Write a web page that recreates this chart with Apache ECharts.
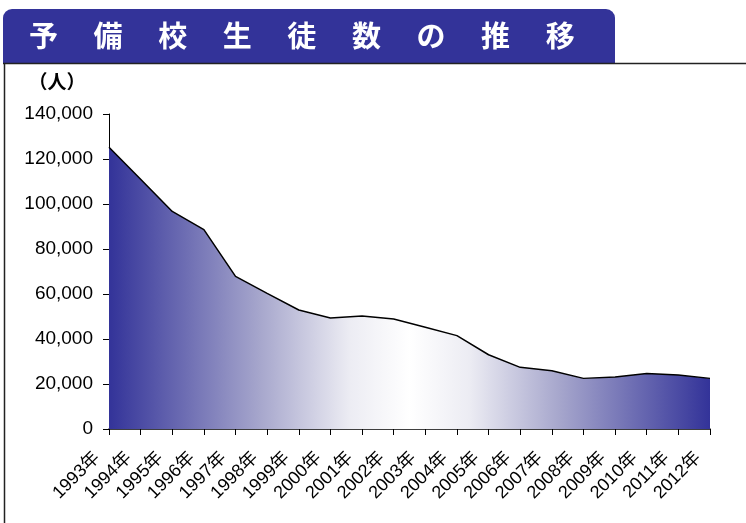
<!DOCTYPE html>
<html>
<head>
<meta charset="utf-8">
<script src="https://cdn.jsdelivr.net/npm/echarts@6/dist/echarts.min.js"></script>
<style>
html,body{margin:0;padding:0;background:#fff;}
#c{width:746px;height:523px;}
</style>
</head>
<body>
<div id="c"></div>
<script>
var titleText = '予　 備　 校　 生　 徒　 数　 の　 推　 移';
var unitLabel = '（人）';
var years = ['1993年','1994年','1995年','1996年','1997年','1998年','1999年','2000年','2001年','2002年','2003年','2004年','2005年','2006年','2007年','2008年','2009年','2010年','2011年','2012年'];
var students = [125200, 111000, 96700, 88600, 67800, 60300, 52900, 49300, 50200, 48900, 45200, 41500, 33000, 27400, 25900, 22500, 23100, 24700, 24000, 22500];
var yMin = 0, yMax = 140000, yStep = 20000;

var chart = echarts.init(document.getElementById('c'), null, {renderer:'canvas'});
var fontLab = '"Liberation Sans", "Noto Sans CJK JP", sans-serif';
chart.setOption({
  animation:false,
  backgroundColor:'#ffffff',
  graphic:[
    {type:'rect', shape:{x:3, y:9, width:612, height:54, r:[9,9,0,0]}, style:{fill:'#333399'}, z:0},
    {type:'line', shape:{x1:3, y1:63.5, x2:746, y2:63.5}, style:{stroke:'#222', lineWidth:1.5}, z:1},
    {type:'line', shape:{x1:4.5, y1:63, x2:4.5, y2:523}, style:{stroke:'#222', lineWidth:1.5}, z:1},
    {type:'text', x:57, y:82, style:{text:unitLabel, fill:'#000', font:'bold 19px "Noto Sans CJK JP", sans-serif', textAlign:'center', textVerticalAlign:'middle'}, z:2}
  ],
  title:{
    text:titleText, left:29, top:21, padding:0,
    textStyle:{color:'#ffffff', fontSize:29, fontWeight:'bold', fontFamily:'"Noto Sans CJK JP", sans-serif'}
  },
  grid:{left:109, right:36, top:114, bottom:94, containLabel:false},
  xAxis:{
    type:'category', data:years, boundaryGap:false,
    axisLine:{lineStyle:{color:'#000', width:1.5}},
    axisTick:{show:true, length:6, interval:0, lineStyle:{color:'#000'}},
    axisLabel:{interval:0, rotate:45, margin:14, padding:[0,17,0,0], color:'#000', fontSize:18, fontFamily:fontLab}
  },
  yAxis:{
    type:'value', min:yMin, max:yMax, interval:yStep,
    axisLine:{show:true, lineStyle:{color:'#000', width:1}},
    axisTick:{show:true, length:6, lineStyle:{color:'#000'}},
    splitLine:{show:false},
    axisLabel:{margin:16, color:'#000', fontSize:19, fontFamily:fontLab,
      formatter:function(v){return v.toLocaleString('en-US');}}
  },
  series:[{
    type:'line', data:students, symbol:'none', smooth:false,
    lineStyle:{color:'#000', width:1.5},
    areaStyle:{opacity:1, color:new echarts.graphic.LinearGradient(0,0,1,0,[
      {offset:0, color:'#333399'},{offset:0.25, color:'#a6a6cc'},{offset:0.4, color:'#ececf3'},
      {offset:0.5, color:'#ffffff'},
      {offset:0.6, color:'#ececf3'},{offset:0.75, color:'#a6a6cc'},{offset:1, color:'#333399'}])}
  }]
});
</script>
</body>
</html>
